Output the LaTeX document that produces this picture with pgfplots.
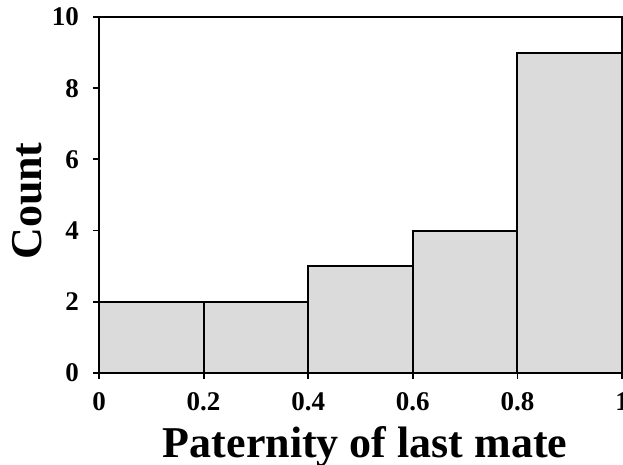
\documentclass[border=0pt]{standalone}
\usepackage{fontspec}
\setmainfont{Liberation Serif}
\usepackage{pgfplots}
\pgfplotsset{compat=1.18}
\begin{document}
\begin{tikzpicture}
\useasboundingbox (0,0) rectangle (623pt,465pt);
\begin{axis}[
  at={(99pt,92pt)}, anchor=origin,
  scale only axis, width=523pt, height=356pt,
  xmin=0, xmax=1, ymin=0, ymax=10,
  xtick={0,0.2,0.4,0.6,0.8,1},
  xticklabels={0,0.2,0.4,0.6,0.8,1},
  ytick={0,2,4,6,8,10},
  yticklabels={0,2,4,6,8,10},
  tick align=outside, major tick length=6pt,
  xtick pos=bottom, ytick pos=left,
  axis line style={line width=1.8pt},
  tick style={line width=1.8pt, black},
  ticklabel style={font=\fontsize{27}{30}\selectfont\bfseries, inner sep=0pt},
  yticklabel style={xshift=-14pt},
  xticklabel style={yshift=-13pt},
  xlabel={Paternity of last mate},
  ylabel={Count},
  label style={font=\fontsize{44}{50}\selectfont\bfseries},
  xlabel style={at={(axis description cs:0.509,-0.236)}, anchor=base, inner sep=0pt},
  ylabel style={at={(axis description cs:-0.138,0.483)}, anchor=center, inner sep=0pt},
  clip=false,
]
\addplot[ybar interval, fill=gray!28, draw=black, line width=2pt]
  coordinates {(0,2)(0.2,2)(0.4,3)(0.6,4)(0.8,9)(1,9)};
\end{axis}
\end{tikzpicture}
\end{document}
